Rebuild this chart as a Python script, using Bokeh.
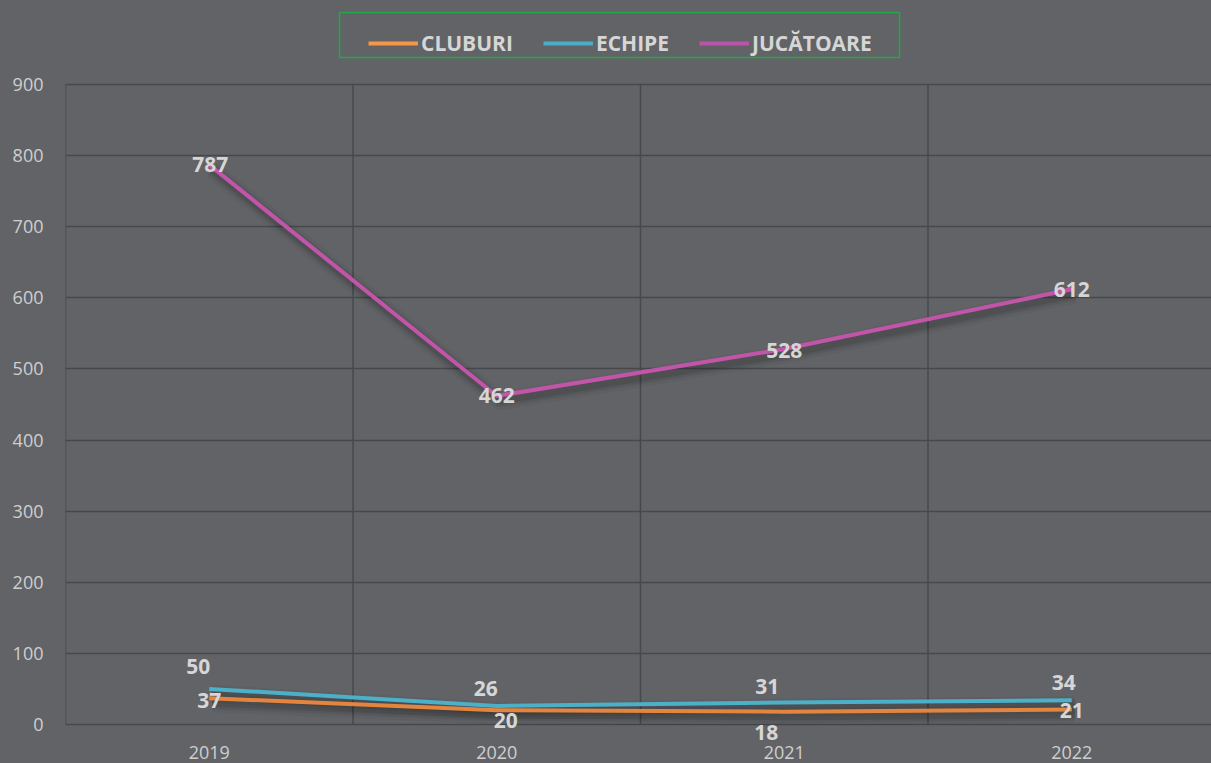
from bokeh.plotting import figure
from bokeh.models import Range1d, FixedTicker, Legend, LegendItem, ColumnDataSource, BoxAnnotation
from bokeh.core.properties import value
from bokeh.embed import file_html
from bokeh.resources import INLINE

years = ["2019", "2020", "2021", "2022"]
cluburi = [37, 20, 18, 21]
echipe = [50, 26, 31, 34]
jucatoare = [787, 462, 528, 612]
series_names = ["CLUBURI", "ECHIPE", "JUCĂTOARE"]
y_ticks = [0, 100, 200, 300, 400, 500, 600, 700, 800, 900]

# label offsets (screen px, +y is down) – style only
off_cluburi = ([0, 9, -18, 0], [2, 10, 21, 1])
off_echipe = ([-11, -11, -17, -8], [-22, -18, -16, -18])
off_jucatoare = ([1, 0, 0, 0], [0, 0, 1, 0])

BG = "#626367"
GRID = "#47484c"
TXT = "#d6d6d6"
colors = ["#e3853f", "#4bb0c8", "#c254aa"]
legend_colors = ["#f79646", "#4bacc6", "#b954a8"]

W, H = 1211, 763
left, top_gap, bottom_gap = 65, 84, 39
cat_w = 287.5
frame_w = W - left
frame_h = H
xmax = frame_w / cat_w
ymax = max(y_ticks)
upp = ymax / (frame_h - top_gap - bottom_gap)   # data units per pixel
y_start = -bottom_gap * upp
y_end = ymax + top_gap * upp

p = figure(width=W, height=H, output_backend="svg", toolbar_location=None,
           x_range=Range1d(0, xmax), y_range=Range1d(y_start, y_end),
           min_border_left=left, min_border_right=0, min_border_top=0,
           min_border_bottom=0, x_axis_location=None)
p.background_fill_color = BG
p.border_fill_color = BG
p.outline_line_color = None

# shadow ranges (shifted a few px)
dy = 5 * upp
dx = 3 / cat_w
p.extra_y_ranges = {"sh": Range1d(y_start + dy, y_end + dy)}
p.extra_x_ranges = {"sh": Range1d(-dx, xmax - dx)}

xs = [i + 0.5 for i in range(len(years))]
bounds = list(range(len(years) + 1))

p.xgrid.visible = False
p.yaxis.ticker = FixedTicker(ticks=y_ticks)
p.ygrid.ticker = FixedTicker(ticks=y_ticks)
p.ygrid.grid_line_color = GRID
p.ygrid.grid_line_width = 1.5
# vertical category separators
p.segment(x0=bounds, y0=[0] * len(bounds), x1=bounds, y1=[ymax] * len(bounds),
          line_color=GRID, line_width=1.5)

ax = p.yaxis[0]
ax.axis_line_color = None
ax.major_tick_line_color = None
ax.minor_tick_line_color = None
ax.major_label_text_color = "#cfcfcf"
ax.major_label_text_font = "Open Sans"
ax.major_label_text_font_size = "18px"
ax.major_label_standoff = 16

# category labels under the plot
p.text(x=xs, y=[0] * len(xs), text=years, y_offset=28,
       text_font=value("Open Sans"), text_font_size="18px", text_color="#cfcfcf",
       text_align="center", text_baseline="middle")

data = [cluburi, echipe, jucatoare]
offs = [off_cluburi, off_echipe, off_jucatoare]

# shadows
for vals in data:
    for w, a in ((18, 0.04), (12, 0.07), (7, 0.1)):
        p.line(xs, vals, line_width=w, line_color="black", line_alpha=a,
               x_range_name="sh", y_range_name="sh", line_join="round")

for vals, c in zip(data, colors):
    p.line(xs, vals, line_width=4, line_color=c, line_join="round")

for vals, (ox, oy) in zip(data, offs):
    src = ColumnDataSource(dict(x=xs, y=vals, t=[str(v) for v in vals], ox=ox, oy=oy))
    p.text(x="x", y="y", text="t", x_offset="ox", y_offset="oy", source=src,
           text_font=value("Open Sans"), text_font_style="bold",
           text_font_size="21px", text_color=TXT,
           text_align="center", text_baseline="middle")

# legend frame
p.add_layout(BoxAnnotation(left=339, right=899, top=12, bottom=57,
                           left_units="canvas", right_units="canvas",
                           top_units="canvas", bottom_units="canvas",
                           fill_color=BG, fill_alpha=1,
                           line_color="#22a84a", line_alpha=1, line_width=1.5))

# legend
leg_r = [p.line([0, 0], [-100, -100], line_width=4, line_color=c, visible=True,
                y_range_name="sh") for c in legend_colors]
legend = Legend(items=[LegendItem(label=n, renderers=[r]) for n, r in zip(series_names, leg_r)],
                orientation="horizontal", location=(303, H - 57))
legend.background_fill_alpha = 0
legend.border_line_color = None
legend.label_text_color = TXT
legend.label_text_font = "Open Sans"
legend.label_text_font_style = "bold"
legend.label_text_font_size = "21px"
legend.glyph_width = 50
legend.glyph_height = 20
legend.label_standoff = 3
legend.spacing = 30
legend.padding = 9
legend.margin = 0
legend.label_height = 24
p.add_layout(legend, "center")

html = file_html(p, INLINE)
html = html.replace("<head>", "<head><style>html,body{margin:0;padding:0;overflow:hidden;background:%s}</style>" % BG, 1)
open("out.html", "w").write(html)
